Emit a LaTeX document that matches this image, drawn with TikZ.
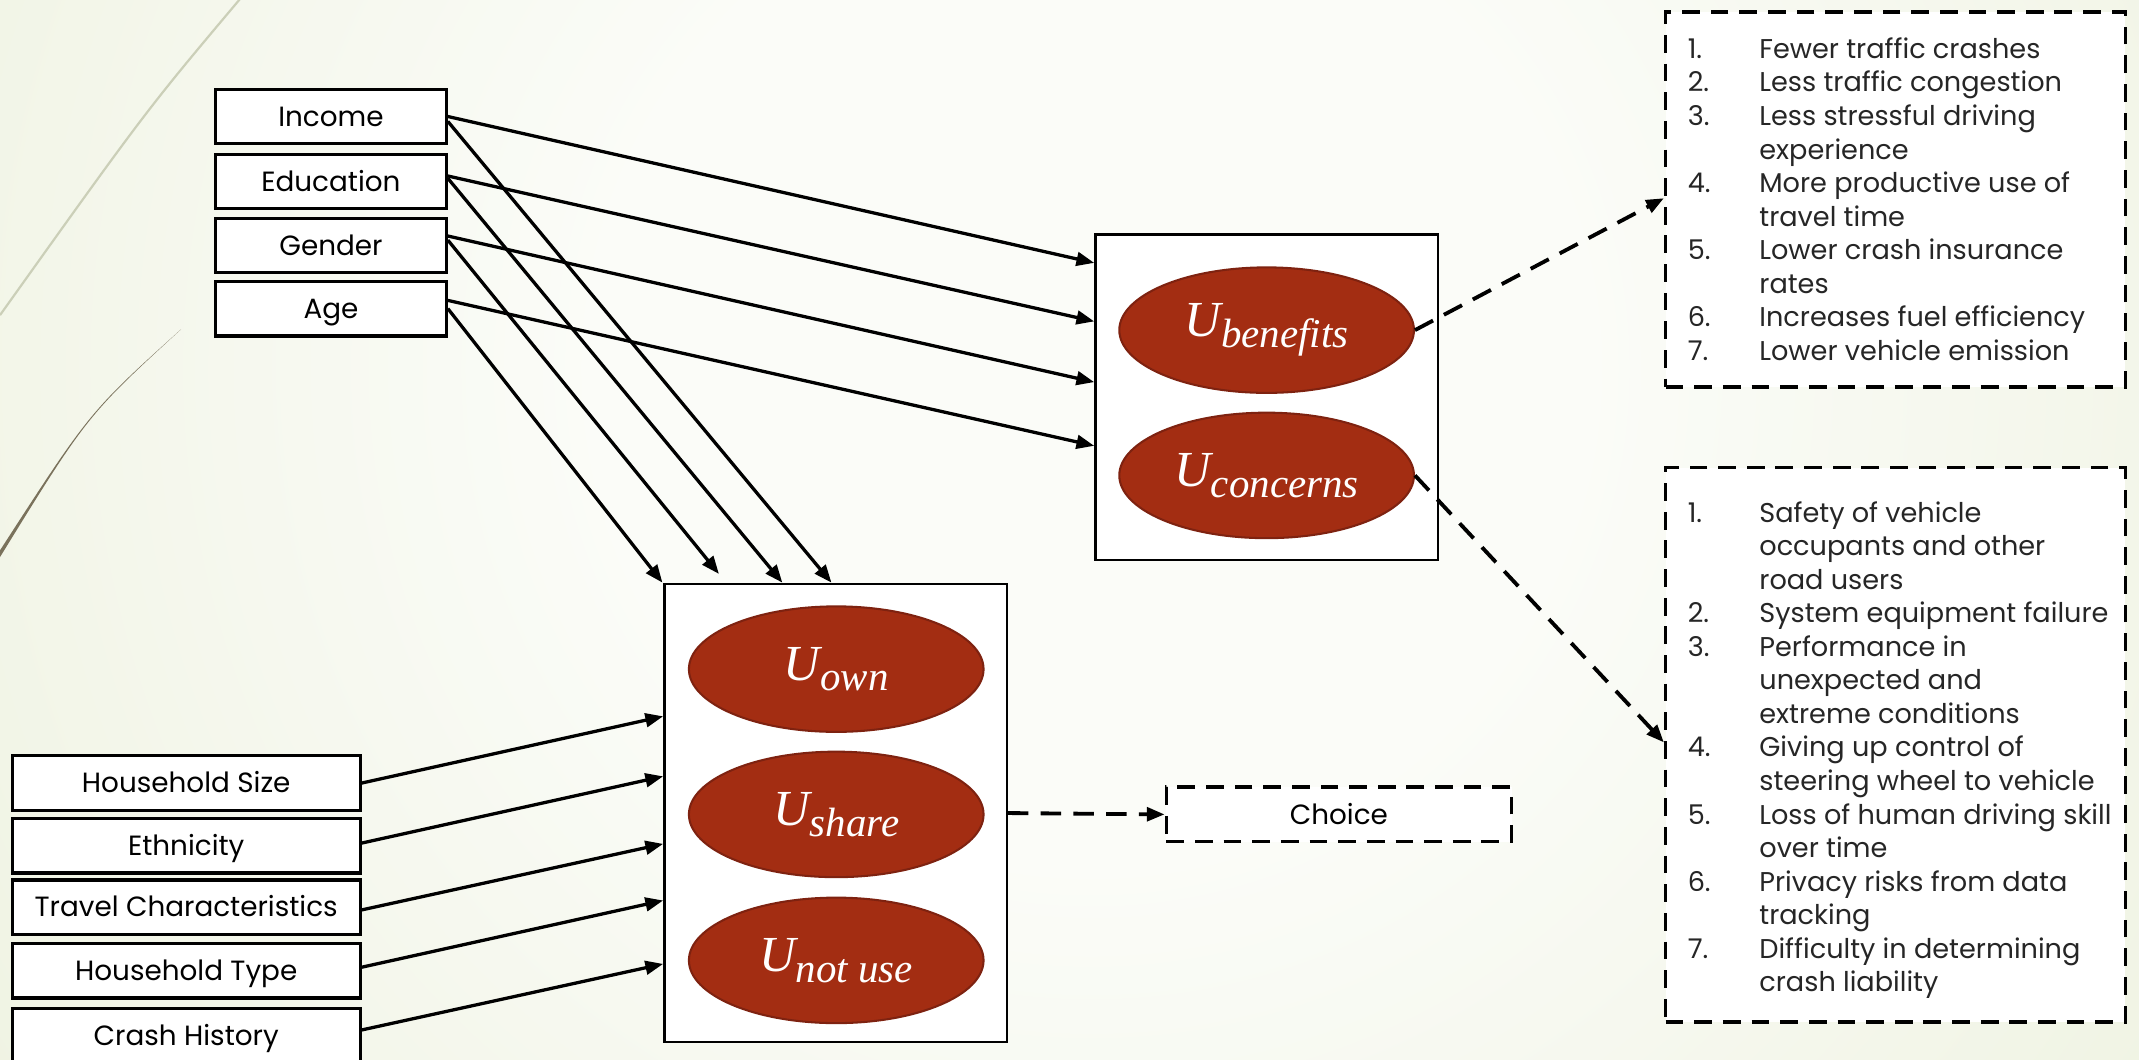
\documentclass[tikz,border=0pt]{standalone}
\usepackage{fontspec}
\setmainfont{Poppins}
\newfontfamily\ufont{Liberation Serif}
\usetikzlibrary{arrows.meta,shapes.geometric}
\definecolor{bgg}{HTML}{DFE8C6}
\definecolor{bgm}{HTML}{EEF2E0}
\definecolor{bgw}{HTML}{FBFCF8}
\definecolor{ured}{HTML}{A32D12}
\definecolor{uredd}{HTML}{7E2210}
\definecolor{arcl}{HTML}{CBCFB8}
\definecolor{arcd}{HTML}{7A725C}
\definecolor{listtext}{HTML}{262626}
\pgfdeclareradialshading{bgshade}{\pgfpoint{0bp}{0bp}}{color(0bp)=(bgw); color(9bp)=(bgw); color(26bp)=(bgm); color(42bp)=(bgg); color(50bp)=(bgg)}
\newcommand{\Usub}[1]{{\ufont\itshape U\raisebox{-8pt}{\fontsize{30}{32}\selectfont #1}}}
\begin{document}
\begin{tikzpicture}[x=1pt,y=-1pt,
  vbox/.style={draw=black, line width=2.4pt, fill=white, minimum width=169pt, minimum height=40pt, inner sep=0pt, text height=14.2pt, text depth=0pt, font=\fontsize{20.4}{24}\selectfont},
  wbox/.style={vbox, minimum width=255pt},
  ubox/.style={draw=black, line width=1.8pt, fill=white, minimum width=251pt, inner sep=0pt},
  uell/.style={ellipse, draw=uredd, line width=1.5pt, fill=ured, minimum width=216pt, minimum height=92pt, inner sep=0pt, text=white, font=\fontsize{37}{40}\selectfont},
  arr/.style={line width=2.4pt, -{Triangle[length=13pt,width=10pt]}},
  darr/.style={line width=2.8pt, dash pattern=on 15pt off 9pt, -{Triangle[length=13pt,width=10pt]}},
  dbox/.style={draw=black, line width=2.6pt, dash pattern=on 13pt off 8pt, fill=white, inner sep=0pt},
  listfont/.style={font=\fontsize{19.9}{24.6}\selectfont, text=listtext, inner sep=0pt, anchor=base west}
]
\useasboundingbox (0,0) rectangle (1568,777);
\clip (0,0) rectangle (1568,777);
% background
\fill[bgg] (0,0) rectangle (1568,777);
\shade[shading=bgshade] (-200,-730) rectangle (1800,1270);
% decorative arcs
\draw[arcl, line width=1.6pt] (177,-2) .. controls (107.5,80.5) .. (0,231);
\fill[arcd] (132.7,241.4) .. controls (65.6,301.9) .. (-1,405) -- (-1,410) .. controls (64,304.5) .. (132.7,241.4) -- cycle;

% left top variables
\node[vbox] (inc) at (242.6,85.4) {Income};
\node[vbox] (edu) at (242.6,133) {Education};
\node[vbox] (gen) at (242.6,180) {Gender};
\node[vbox] (age) at (242.6,226.2) {Age};

% bottom left variables
\node[wbox] (hs) at (136.5,574) {Household Size};
\node[wbox] (eth) at (136.5,620) {Ethnicity};
\node[wbox] (trav) at (136.5,665) {Travel Characteristics};
\node[wbox] (ht) at (136.5,711.5) {Household Type};
\node[wbox] (ch) at (136.5,759.5) {Crash History};

% utility boxes
\node[ubox, minimum height=238.5pt] (bbox) at (928.5,291.25) {};
\node[uell] (ubene) at (928.5,242) {\Usub{benefits}};
\node[uell] (uconc) at (928.5,348.5) {\Usub{concerns}};

\node[ubox, minimum height=336pt] (cbox) at (612.5,596) {};
\node[uell] (uown) at (613,490.5) {\Usub{own}};
\node[uell] (ushare) at (613,597) {\Usub{share}};
\node[uell] (unot) at (613,704) {\Usub{not use}};

% choice
\node[dbox, minimum width=253pt, minimum height=40pt, text height=14.2pt, text depth=0pt, font=\fontsize{20.4}{24}\selectfont] (choice) at (981.5,597) {Choice};

% list boxes
\node[dbox, minimum width=337pt, minimum height=275pt] (benbox) at (1389.5,146.1) {};
\node[listfont] (bentext) at (1237,42.8) {\begin{tabular}[t]{@{}p{52.5pt}@{}l@{}}
1. & Fewer traffic crashes\\
2. & Less traffic congestion\\
3. & Less stressful driving\\
   & experience\\
4. & More productive use of\\
   & travel time\\
5. & Lower crash insurance\\
   & rates\\
6. & Increases fuel efficiency\\
7. & Lower vehicle emission
\end{tabular}};

\node[dbox, minimum width=337pt, minimum height=406.5pt] (conbox) at (1389.5,545.95) {};
\node[listfont] (context) at (1237,382.7) {\begin{tabular}[t]{@{}p{52.5pt}@{}l@{}}
1. & Safety of vehicle\\
   & occupants and other\\
   & road users\\
2. & System equipment failure\\
3. & Performance in\\
   & unexpected and\\
   & extreme conditions\\
4. & Giving up control of\\
   & steering wheel to vehicle\\
5. & Loss of human driving skill\\
   & over time\\
6. & Privacy risks from data\\
   & tracking\\
7. & Difficulty in determining\\
   & crash liability
\end{tabular}};

% arrows to benefits/concerns box
\draw[arr] (inc.east) -- ([yshift=-21.6pt]bbox.north west);
\draw[arr] ([yshift=4pt]edu.east) -- ([yshift=-64.5pt]bbox.north west);
\draw[arr] ([yshift=7pt]gen.east) -- ([yshift=-109pt]bbox.north west);
\draw[arr] ([yshift=6pt]age.east) -- ([yshift=-155.7pt]bbox.north west);

% arrows to central box top
\draw[arr] ([yshift=-3.6pt]inc.east) -- ([xshift=-3pt]cbox.north);
\draw[arr] ([yshift=2.3pt]edu.east) -- ([xshift=-39pt]cbox.north);
\draw[arr] ([yshift=4pt]gen.east) -- ([xshift=-85.5pt,yshift=6.4pt]cbox.north);
\draw[arr] (age.east) -- ([xshift=-0.5pt]cbox.north west);

% arrows from bottom-left variables
\draw[arr] (hs.east) -- ([yshift=-98pt]cbox.north west);
\draw[arr] ([yshift=2pt]eth.east) -- ([yshift=-142pt]cbox.north west);
\draw[arr] ([yshift=-2pt]trav.east) -- ([yshift=-191.5pt]cbox.north west);
\draw[arr] ([yshift=2.5pt]ht.east) -- ([yshift=-233pt]cbox.north west);
\draw[arr] ([yshift=4.5pt]ch.east) -- ([yshift=-279.5pt]cbox.north west);

% dashed arrows
\draw[darr] (ubene.east) -- ([yshift=-138pt]benbox.north west);
\draw[darr] (uconc.east) -- ([yshift=-202.8pt]conbox.north west);
\draw[darr] (cbox.east) -- (choice.west);
\end{tikzpicture}
\end{document}
